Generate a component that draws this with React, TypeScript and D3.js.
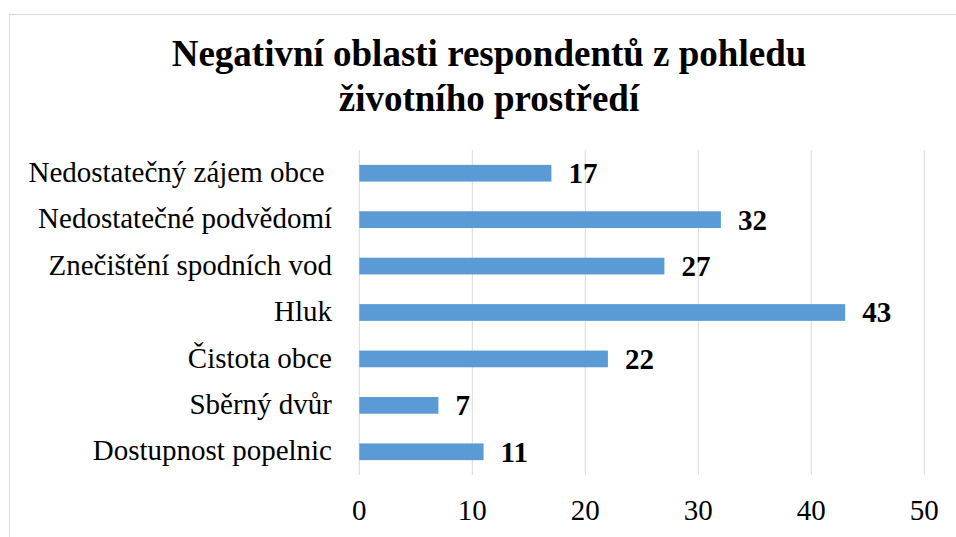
import React from "react";
import * as d3 from "d3";

const categories = [
  "Nedostatečný zájem obce ",
  "Nedostatečné podvědomí",
  "Znečištění spodních vod",
  "Hluk",
  "Čistota obce",
  "Sběrný dvůr",
  "Dostupnost popelnic",
];
const values = [17, 32, 27, 43, 22, 7, 11];
const xTicks = [0, 10, 20, 30, 40, 50];
const titleLines = ["Negativní oblasti respondentů z pohledu", "životního prostředí"];

const W = 956;
const H = 537;
const FONT = "Liberation Serif";

export default function App() {
  const x = d3.scaleLinear().domain([0, 50]).range([359.3, 924.3]);
  const y = d3
    .scaleBand<string>()
    .domain(categories)
    .range([150, 475])
    .paddingInner(0.64)
    .paddingOuter(0.32);

  return (
    <svg
      width={W}
      height={H}
      style={{ position: "absolute", left: 0, top: 0, display: "block", background: "#fff" }}
    >
      <rect x={9.5} y={14.5} width={W + 20} height={H + 20} fill="#fff" stroke="#d9d9d9" strokeWidth={1} />
      {titleLines.map((t, i) => (
        <text
          key={i}
          x={489}
          y={66 + i * 45}
          textAnchor="middle"
          style={{ fontFamily: FONT, fontWeight: "bold", fontSize: 37 }}
          fill="#000"
        >
          {t}
        </text>
      ))}
      {xTicks.map((t) => (
        <line key={"g" + t} x1={x(t)} x2={x(t)} y1={150} y2={475} stroke="#d9d9d9" strokeWidth={1} />
      ))}
      {categories.map((c, i) => {
        const yy = y(c)!;
        const cy = yy + y.bandwidth() / 2;
        return (
          <g key={c}>
            <rect x={x(0)} y={yy} width={x(values[i]) - x(0)} height={y.bandwidth()} fill="#5b9bd5" />
            <text
              x={332}
              y={cy}
              dy="0.3em"
              textAnchor="end"
              style={{ fontFamily: FONT, fontSize: 29, whiteSpace: "pre" }}
              fill="#000"
            >
              {c}
            </text>
            <text
              x={x(values[i]) + 17}
              y={cy}
              dy="0.34em"
              style={{ fontFamily: FONT, fontSize: 29, fontWeight: "bold" }}
              fill="#000"
            >
              {values[i]}
            </text>
          </g>
        );
      })}
      {xTicks.map((t) => (
        <text
          key={"t" + t}
          x={x(t)}
          y={520}
          textAnchor="middle"
          style={{ fontFamily: FONT, fontSize: 29 }}
          fill="#000"
        >
          {t}
        </text>
      ))}
    </svg>
  );
}
